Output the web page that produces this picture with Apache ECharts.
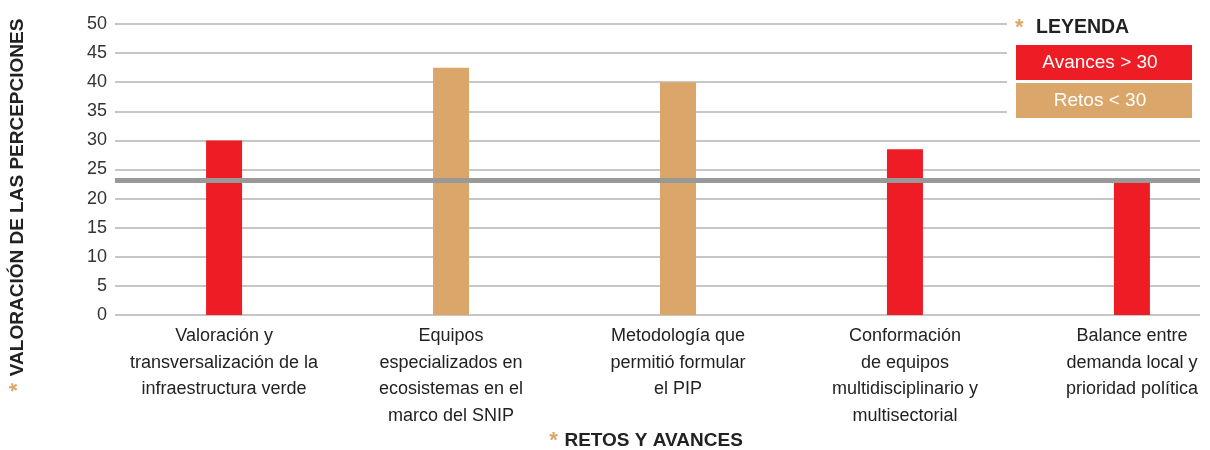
<!DOCTYPE html>
<html>
<head>
    <meta charset="utf-8">
    <title>Retos y avances</title>
    <style>
        html, body { margin: 0; padding: 0; background: #fff; }
    </style>
</head>
<body>
<div id="main" style="width: 1210px;height:450px;"></div>
<script src="https://cdn.jsdelivr.net/npm/echarts@6/dist/echarts.min.js"></script>
<script type="text/javascript">
    // categorías y valores
    var categories = [
        'Valoración y\ntransversalización de la\ninfraestructura verde',
        'Equipos\nespecializados en\necosistemas en el\nmarco del SNIP',
        'Metodología que\npermitió formular\nel PIP',
        'Conformación\nde equipos\nmultidisciplinario y\nmultisectorial',
        'Balance entre\ndemanda local y\nprioridad política'
    ];
    var values = [30, 42.5, 40, 28.5, 22.8];
    var groups = ['avance', 'reto', 'reto', 'avance', 'avance'];
    var yTicks = [0, 5, 10, 15, 20, 25, 30, 35, 40, 45, 50];
    var promedio = 23.2;

    var colores = { avance: '#ee1c25', reto: '#dba66a' };
    var fuente = '"Liberation Sans", Arial, sans-serif';

    var myChart = echarts.init(document.getElementById('main'));

    var barData = values.map(function (v, i) {
        return { value: v, itemStyle: { color: colores[groups[i]] } };
    });

    myChart.setOption({
        animation: false,
        textStyle: { fontFamily: fuente },
        grid: [
            // rejilla del eje Y (líneas guía)
            { left: 115, right: 10, top: 24, bottom: 135, outerBoundsMode: 'none' },
            // rejilla de las barras (categorías centradas, sale del lienzo a la derecha)
            { left: 110.6, width: 1134.8, top: 24, bottom: 135, outerBoundsMode: 'none' }
        ],
        xAxis: [
            { type: 'value', gridIndex: 0, min: 0, max: 1, show: false },
            {
                type: 'category', gridIndex: 1, data: categories,
                axisLine: { show: false },
                axisTick: { show: false },
                axisLabel: {
                    interval: 0, fontSize: 18, lineHeight: 26.5,
                    color: '#222', margin: 8, fontFamily: fuente
                }
            }
        ],
        yAxis: [
            {
                type: 'value', gridIndex: 0,
                min: yTicks[0], max: yTicks[yTicks.length - 1], interval: 5,
                axisLine: { show: false },
                axisTick: { show: false },
                axisLabel: { fontSize: 18, color: '#333', margin: 8, fontFamily: fuente },
                splitLine: { lineStyle: { color: '#b3b3b3', width: 1.5 } }
            },
            { type: 'value', gridIndex: 1, min: 0, max: 50, show: false }
        ],
        series: [
            {
                type: 'bar',
                xAxisIndex: 1, yAxisIndex: 1,
                barWidth: 36,
                data: barData,
                z: 2
            },
            {
                // línea de referencia
                type: 'line',
                xAxisIndex: 0, yAxisIndex: 0,
                data: [],
                z: 5,
                markLine: {
                    silent: true,
                    symbol: 'none',
                    label: { show: false },
                    lineStyle: { color: '#999', width: 5, type: 'solid' },
                    data: [{ yAxis: promedio }]
                }
            }
        ],
        graphic: [
            // fondo blanco de la leyenda
            { type: 'rect', left: 1007, top: 8, z: 10,
              shape: { width: 203, height: 114 }, style: { fill: '#fff' } },
            { type: 'text', x: 1015, y: 28, z: 11,
              style: {
                  text: '{a|*}{b|LEYENDA}',
                  verticalAlign: 'middle',
                  rich: {
                      a: { fill: '#dba66a', fontSize: 22, fontWeight: 'bold', fontFamily: fuente, width: 21 },
                      b: { fill: '#222', fontSize: 19.5, fontWeight: 'bold', fontFamily: fuente }
                  }
              } },
            { type: 'rect', left: 1016, top: 45, z: 11,
              shape: { width: 176, height: 35 }, style: { fill: colores.avance } },
            { type: 'text', x: 1100, y: 63, z: 12,
              style: { text: 'Avances > 30', fill: '#fff', fontSize: 19, fontFamily: fuente,
                       align: 'center', verticalAlign: 'middle' } },
            { type: 'rect', left: 1016, top: 83, z: 11,
              shape: { width: 176, height: 35 }, style: { fill: colores.reto } },
            { type: 'text', x: 1100, y: 101, z: 12,
              style: { text: 'Retos < 30', fill: '#fff', fontSize: 19, fontFamily: fuente,
                       align: 'center', verticalAlign: 'middle' } },
            // título del eje Y
            { type: 'text', x: 18, y: 205, rotation: Math.PI / 2, z: 11,
              style: {
                  text: '{a|*}  {b|VALORACIÓN DE LAS PERCEPCIONES}',
                  align: 'center', verticalAlign: 'middle',
                  rich: {
                      a: { fill: '#dba66a', fontSize: 22, fontWeight: 'bold', fontFamily: fuente },
                      b: { fill: '#222', fontSize: 19, fontWeight: 'bold', fontFamily: fuente }
                  }
              } },
            // título del eje X
            { type: 'text', x: 646, y: 441, z: 11,
              style: {
                  text: '{a|*}  {b|RETOS Y AVANCES}',
                  align: 'center', verticalAlign: 'middle',
                  rich: {
                      a: { fill: '#dba66a', fontSize: 22, fontWeight: 'bold', fontFamily: fuente },
                      b: { fill: '#222', fontSize: 19, fontWeight: 'bold', fontFamily: fuente }
                  }
              } }
        ]
    });
</script>
</body>
</html>
